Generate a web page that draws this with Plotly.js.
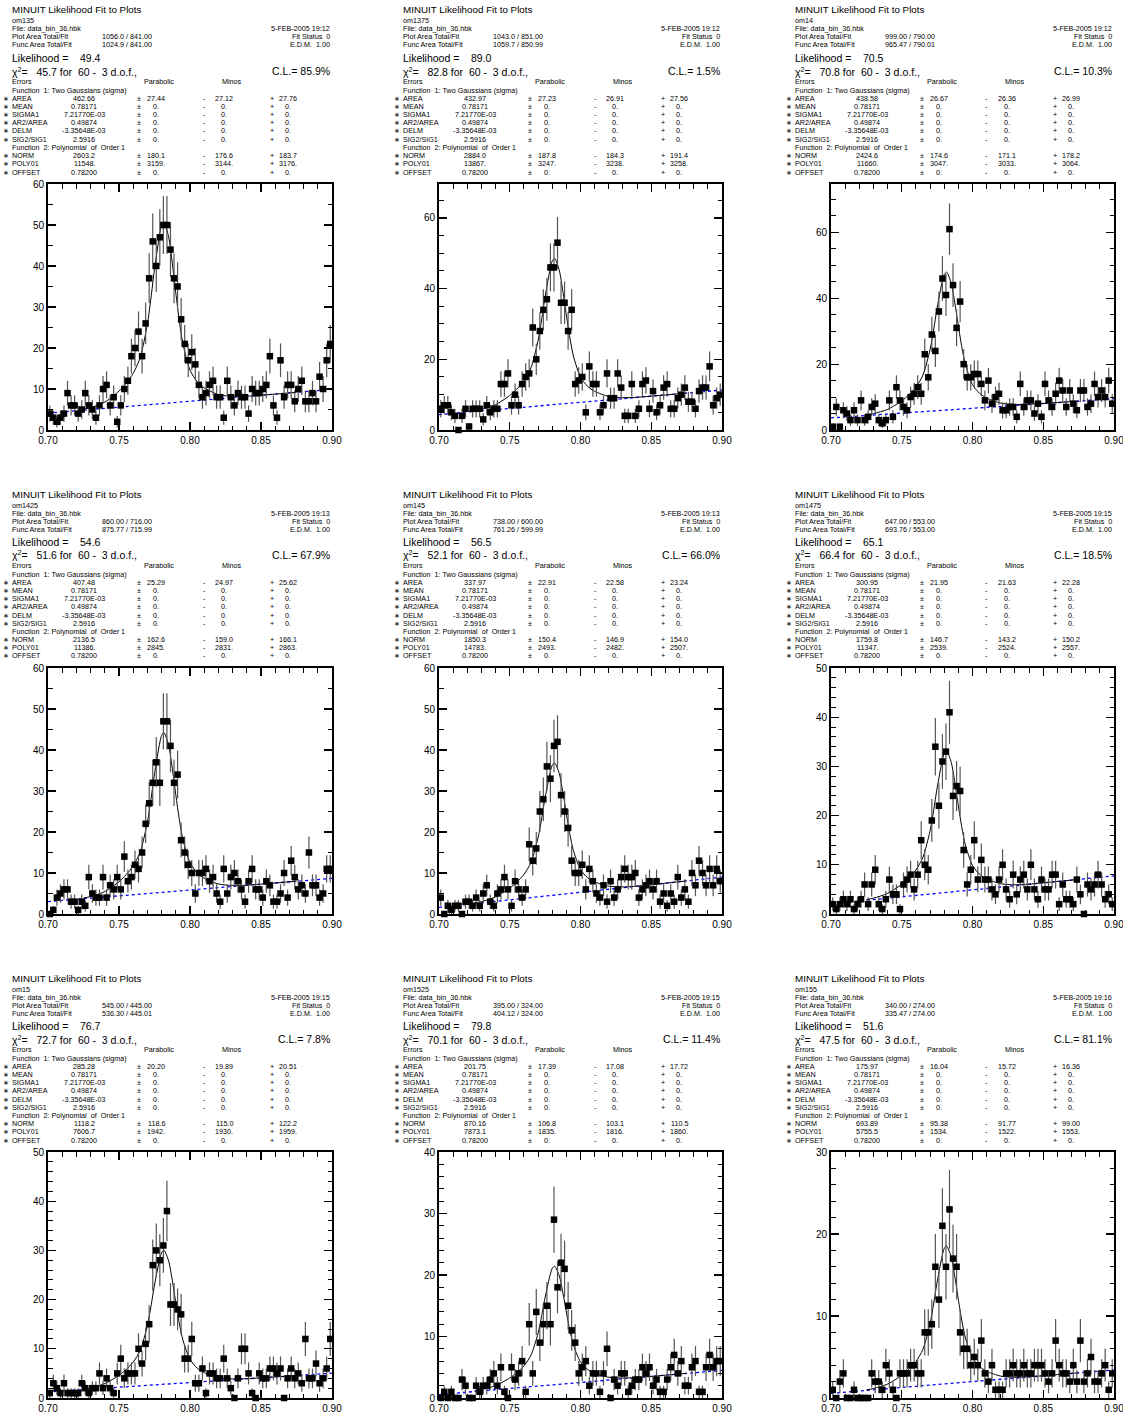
<!DOCTYPE html>
<html><head><meta charset="utf-8">
<script src="https://cdn.plot.ly/plotly-3.0.1.min.js"></script>
<style>html,body{margin:0;padding:0;background:#fff;}#chart{width:1123px;height:1418px;}</style>
</head><body><div id="chart"></div>
<script>
// ---------------- DATA ----------------
const histIds = ["om135","om1375","om14","om1425","om145","om1475","om15","om1525","om155"];
const plotArea = ["1056.0 / 841.00","1043.0 / 851.00","999.00 / 790.00","860.00 / 716.00","738.00 / 600.00","647.00 / 553.00","545.00 / 445.00","395.00 / 324.00","340.00 / 274.00"];
const funcArea = ["1024.9 / 841.00","1059.7 / 850.99","965.47 / 790.01","875.77 / 715.99","761.26 / 599.99","693.76 / 553.00","536.30 / 445.01","404.12 / 324.00","335.47 / 274.00"];
const fitDate = ["5-FEB-2005 19:12","5-FEB-2005 19:12","5-FEB-2005 19:12","5-FEB-2005 19:13","5-FEB-2005 19:13","5-FEB-2005 19:15","5-FEB-2005 19:15","5-FEB-2005 19:15","5-FEB-2005 19:16"];
const likelihood = ["49.4","89.0","70.5","54.6","56.5","65.1","76.7","79.8","51.6"];
const chi2 = ["45.7","82.8","70.8","51.6","52.1","66.4","72.7","70.1","47.5"];
const confLevel = ["85.9%","1.5%","10.3%","67.9%","66.0%","18.5%","7.8%","11.4%","81.1%"];
const areaFit = [["462.66","27.44","27.12","27.76"],["432.97","27.23","26.91","27.56"],["438.58","26.67","26.36","26.99"],["407.48","25.29","24.97","25.62"],["337.97","22.91","22.58","23.24"],["300.95","21.95","21.63","22.28"],["285.28","20.20","19.89","20.51"],["201.75","17.39","17.08","17.72"],["175.97","16.04","15.72","16.36"]];
const normFit = [["2603.2","180.1","176.6","183.7"],["2884.0","187.8","184.3","191.4"],["2424.6","174.6","171.1","178.2"],["2136.5","162.6","159.0","166.1"],["1850.3","150.4","146.9","154.0"],["1759.8","146.7","143.2","150.2"],["1118.2","118.6","115.0","122.2"],["870.16","106.8","103.1","110.5"],["693.89","95.38","91.77","99.00"]];
const poly01Fit = [["11548.","3159.","3144.","3176."],["13867.","3247.","3238.","3258."],["11660.","3047.","3033.","3064."],["11386.","2845.","2831.","2863."],["14783.","2493.","2482.","2507."],["11347.","2539.","2524.","2557."],["7606.7","1942.","1930.","1959."],["7873.1","1835.","1816.","1860."],["5755.5","1534.","1522.","1553."]];
const fixedNames = ["MEAN","SIGMA1","AR2/AREA","DELM","SIG2/SIG1"];
const fixedValues = ["0.78171","7.21770E-03","0.49874","-3.35648E-03","2.5916"];
const offsetValue = "0.78200";

// histogram: 80 bins of 0.0025 from 0.70
const binStart = 0.70125, binWidth = 0.0025;
const counts1 = [4,3,2,3,4,9,6,6,4,5, 9,6,5,3,6,10,11,6,8,2, 6,10,12,18,20,24,18,26,37,46, 40,47,50,50,44,37,35,27,21,17, 19,16,11,8,9,11,12,8,8,3, 12,8,6,9,8,8,4,10,9,9, 10,11,18,6,3,17,8,11,11,7, 10,12,7,7,9,7,13,10,17,21];
const counts2 = [6,7,7,5,4,0,4,6,1,6, 6,6,3,7,5,6,6,13,13,16, 7,10,7,13,15,16,29,20,28,34, 37,46,46,53,36,36,28,34,13,14, 15,5,18,13,13,5,7,16,9,9, 16,12,4,4,13,4,6,13,14,6, 11,5,7,12,13,6,6,9,10,12, 8,8,6,11,12,12,18,7,9,10];
const counts3 = [1,7,1,6,5,3,6,3,9,3, 4,7,8,3,2,3,9,4,13,9, 7,6,10,11,13,11,23,16,29,24, 36,46,41,61,44,31,39,20,16,16, 17,17,14,9,15,8,10,11,6,6, 7,7,4,14,7,9,9,5,8,4, 14,9,7,11,15,12,7,12,8,6, 12,12,7,8,14,10,12,10,15,8];
const counts4 = [0,1,4,5,6,6,3,3,1,3, 2,9,5,4,4,9,4,7,6,9, 6,14,8,9,12,11,15,22,27,32, 37,32,47,47,41,32,34,18,15,12, 10,5,10,10,11,8,9,5,3,11, 5,9,10,8,6,3,8,11,6,6, 4,8,7,3,3,5,10,4,13,9, 6,7,5,15,7,7,4,5,11,11];
const counts5 = [4,0,2,1,2,2,0,3,3,2, 4,2,5,7,3,2,5,6,9,6, 2,8,6,4,6,17,13,16,25,28, 36,33,41,42,29,25,21,13,10,10, 12,6,11,8,5,4,7,3,8,4, 6,9,11,9,9,10,4,6,7,8, 6,8,3,5,2,5,3,9,4,6, 3,10,7,13,10,7,11,7,11,8];
const counts6 = [2,1,2,3,2,3,1,2,3,6, 2,6,9,2,1,3,7,4,4,1, 6,7,8,5,8,15,10,9,19,34, 22,31,33,41,24,26,25,13,6,9, 15,7,11,7,7,5,4,7,10,5, 3,8,4,7,8,5,10,5,3,7, 5,5,8,8,2,6,3,3,2,7, 4,0,6,5,6,8,6,3,4,2];
const counts7 = [1,3,2,1,3,1,1,1,1,3, 2,1,2,2,5,2,4,2,1,5, 8,4,5,5,5,10,7,11,15,27, 30,28,31,38,19,19,18,17,8,8, 12,3,3,6,1,5,5,4,4,8, 4,2,0,4,10,10,5,1,0,5, 4,4,6,6,5,6,0,4,6,4, 5,3,12,4,4,7,3,4,6,12];
const counts8 = [0,1,0,1,0,0,3,2,0,0, 2,1,2,2,3,4,2,5,1,0, 5,3,4,6,1,12,4,14,9,12, 15,12,29,18,22,21,15,11,9,4, 5,6,2,4,4,1,4,8,0,3, 2,4,4,1,2,3,3,5,4,5, 2,3,1,1,3,5,7,4,6,2, 2,5,6,1,1,5,7,5,6,6];
const counts9 = [1,0,2,3,0,0,1,0,0,0, 0,3,2,2,1,4,3,1,0,3, 3,3,4,4,3,3,8,8,9,16, 12,21,16,23,17,16,8,6,6,4, 5,4,7,3,2,4,1,1,1,3, 3,4,3,3,4,3,3,4,4,4, 3,2,3,7,4,3,3,2,4,2, 7,2,3,5,2,2,3,4,1,3];

// fitted curve (two gaussians + linear background) over the fit range, read at these x
const fitX = [0.725,0.73,0.74,0.75,0.755,0.76,0.765,0.77,0.7725,0.775,0.78,0.7817,0.785,0.7875,0.79,0.7925,0.795,0.80,0.805,0.81,0.82,0.83,0.84,0.86,0.875];
const fit1 = [5.07,5.44,6.80,9.49,11.41,13.83,17.75,25.89,32.15,39.22,49.87,50.66,47.03,40.82,33.45,26.54,21.05,14.62,11.81,10.27,8.64,8.17,8.24,8.76,9.19];
const fit2 = [5.43,5.82,7.16,9.76,11.59,13.89,17.60,25.26,31.14,37.77,47.78,48.53,45.16,39.37,32.48,26.04,20.92,14.94,12.35,10.95,9.49,9.13,9.27,9.92,10.43];
const fit3 = [4.60,4.96,6.26,8.83,10.66,12.96,16.69,24.42,30.36,37.06,47.17,47.92,44.48,38.60,31.61,25.07,19.87,13.78,11.13,9.68,8.15,7.72,7.81,8.34,8.77];
const fit4 = [3.90,4.25,5.47,7.87,9.58,11.72,15.19,22.38,27.90,34.13,43.53,44.23,41.04,35.58,29.09,23.02,18.19,12.54,10.08,8.74,7.33,6.95,7.04,7.56,7.99];
const fit5 = [2.67,3.02,4.17,6.30,7.78,9.62,12.57,18.60,23.21,28.41,36.27,36.87,34.28,29.78,24.43,19.43,15.46,10.84,8.86,7.82,6.78,6.60,6.81,7.51,8.06];
const fit6 = [2.92,3.21,4.19,6.03,7.33,8.95,11.55,16.90,20.99,25.61,32.59,33.12,30.79,26.77,22.00,17.53,13.99,9.85,8.07,7.12,6.15,5.94,6.08,6.61,7.04];
const fit7 = [1.84,2.08,2.93,4.60,5.79,7.28,9.71,14.73,18.60,22.96,29.53,30.02,27.79,23.96,19.42,15.16,11.78,7.82,6.09,5.15,4.15,3.88,3.93,4.28,4.56];
const fit8 = [1.15,1.34,2.01,3.25,4.12,5.21,6.96,10.54,13.29,16.39,21.07,21.43,19.87,17.18,13.98,10.99,8.61,5.84,4.65,4.02,3.37,3.24,3.34,3.71,4.01];
const fit9 = [0.99,1.15,1.70,2.76,3.51,4.44,5.95,9.07,11.46,14.15,18.22,18.53,17.16,14.81,12.01,9.39,7.31,4.88,3.83,3.26,2.67,2.53,2.59,2.86,3.07];

// linear background component
const bgX = [0.70, 0.90];
const bg1 = [4.14, 9.92], bg2 = [4.37, 11.30], bg3 = [3.67, 9.50];
const bg4 = [3.01, 8.70], bg5 = [1.60, 8.99], bg6 = [2.07, 7.75];
const bg7 = [1.24, 5.04], bg8 = [0.56, 4.50], bg9 = [0.56, 3.43];

const xRange = [0.70, 0.90];
const yMax = [60, 69.6, 74.7, 60, 60, 50, 50, 40, 30];
const yTickStep = [10, 20, 20, 10, 10, 10, 10, 10, 10];
const yMinorStep = [5, 5, 5, 5, 5, 2, 2, 2, 2];

const allCounts = [counts1,counts2,counts3,counts4,counts5,counts6,counts7,counts8,counts9];
const allFits = [fit1,fit2,fit3,fit4,fit5,fit6,fit7,fit8,fit9];
const allBg = [bg1,bg2,bg3,bg4,bg5,bg6,bg7,bg8,bg9];

// ---------------- LAYOUT ----------------
const W = 1123, H = 1418;
const FONT = '"Liberation Sans", Arial, Helvetica, sans-serif';
const colLeft = [48, 439, 831], plotW = [284, 283, 283];
const rowTop = [184, 668, 1152], plotH = 246;

const traces = [];
const layout = {
  width: W, height: H, margin: {l:0, r:0, t:0, b:0},
  paper_bgcolor: '#fff', plot_bgcolor: '#fff', showlegend: false,
  font: {family: FONT, color: '#000'}, annotations: []
};

function ann(px, py, text, size, xanchor) {
  layout.annotations.push({
    xref: 'paper', yref: 'paper', x: px / W, y: 1 - py / H,
    text: text, showarrow: false, xanchor: xanchor || 'left', yanchor: 'middle',
    font: {family: FONT, size: size, color: '#000'}
  });
}
const sp = s => s.replace(/ /g, '\u00a0');

for (let p = 0; p < 9; p++) {
  const col = p % 3, row = Math.floor(p / 3), k = p + 1;
  const sx = k === 1 ? '' : String(k);
  const axisCommon = {
    showline: true, linewidth: 2, linecolor: '#000', mirror: 'allticks',
    ticks: 'inside', ticklen: 8, tickwidth: 1.2, tickcolor: '#000',
    showgrid: false, zeroline: false, fixedrange: true, ticklabeloverflow: 'allow',
    tickfont: {family: FONT, size: 10, color: '#000'}
  };
  layout['xaxis' + sx] = Object.assign({}, axisCommon, {
    domain: [colLeft[col] / W, (colLeft[col] + plotW[col]) / W],
    range: xRange, anchor: 'y' + sx, tick0: 0.70, dtick: 0.05, tickformat: '.2f',
    minor: {ticks: 'inside', ticklen: 4.5, tickwidth: 1, tickcolor: '#000', dtick: 0.01, showgrid: false}
  });
  layout['yaxis' + sx] = Object.assign({}, axisCommon, {
    domain: [1 - (rowTop[row] + plotH) / H, 1 - rowTop[row] / H],
    range: [0, yMax[p]], anchor: 'x' + sx, tick0: 0, dtick: yTickStep[p],
    minor: {ticks: 'inside', ticklen: 4.5, tickwidth: 1, tickcolor: '#000', dtick: yMinorStep[p], showgrid: false}
  });

  traces.push({x: bgX, y: allBg[p], xaxis: 'x' + sx, yaxis: 'y' + sx, mode: 'lines',
    line: {color: '#0000ff', width: 1.3, dash: 'dot'}, hoverinfo: 'skip'});
  traces.push({x: fitX, y: allFits[p], xaxis: 'x' + sx, yaxis: 'y' + sx, mode: 'lines',
    line: {color: '#000', width: 1, shape: 'spline', smoothing: 0.7}, hoverinfo: 'skip'});
  traces.push({x0: binStart, dx: binWidth, y: allCounts[p], xaxis: 'x' + sx, yaxis: 'y' + sx,
    type: 'scatter', mode: 'markers', cliponaxis: false,
    marker: {symbol: 'square', size: 6.5, color: '#000'},
    error_y: {type: 'sqrt', visible: true, color: '#555', thickness: 1.2, width: 0}});

  // text block
  const x0 = colLeft[col] - 48, yb = rowTop[row] - 184, R = colLeft[col] + plotW[col];
  const S = 7.2;
  ann(x0 + 10, yb + 10, 'MINUIT Likelihood Fit to Plots', 9.8);
  ann(x0 + 10, yb + 21, histIds[p], S);
  ann(x0 + 10, yb + 29, 'File: data_bin_36.hbk', S);
  ann(R, yb + 29, fitDate[p], S, 'right');
  ann(x0 + 10, yb + 37, 'Plot Area Total/Fit', S);
  ann(x0 + 100, yb + 37, plotArea[p], S);
  ann(R, yb + 37, sp('Fit Status  0'), S, 'right');
  ann(x0 + 10, yb + 45, 'Func Area Total/Fit', S);
  ann(x0 + 100, yb + 45, funcArea[p], S);
  ann(R, yb + 45, sp('E.D.M.  1.00'), S, 'right');
  ann(x0 + 10, yb + 58, sp('Likelihood =    ' + likelihood[p]), 10.5);
  ann(x0 + 10, yb + 71, 'χ<sup>2</sup>' + sp('=   ' + chi2[p] + ' for  60 -  3 d.o.f.,'), 10.5);
  ann(R, yb + 71, sp('C.L.= ' + confLevel[p]), 10.5, 'right');
  ann(x0 + 10, yb + 81.8, 'Errors', S);
  ann(x0 + 159, yb + 81.8, 'Parabolic', S, 'center');
  ann(x0 + 232, yb + 81.8, 'Minos', S, 'center');
  ann(x0 + 10, yb + 90, sp('Function  1: Two Gaussians (sigma)'), S);

  const rows = [['AREA'].concat(areaFit[p])];
  for (let i = 0; i < fixedNames.length; i++) rows.push([fixedNames[i], fixedValues[i], '0.', '0.', '0.']);
  const rows2 = [['NORM'].concat(normFit[p]), ['POLY01'].concat(poly01Fit[p]), ['OFFSET', offsetValue, '0.', '0.', '0.']];
  function paramRow(r, y) {
    ann(x0 + 5.5, y, '\u2217', S, 'center');
    ann(x0 + 10, y, r[0], S);
    ann(x0 + 84, y, r[1], S, 'center');
    ann(x0 + 139, y, '±', S, 'center');
    ann(x0 + 156, y, r[2], S, 'center');
    ann(x0 + 204, y, '-', S, 'center');
    ann(x0 + 224, y, r[3], S, 'center');
    ann(x0 + 272, y, '+', S, 'center');
    ann(x0 + 288, y, r[4], S, 'center');
  }
  rows.forEach((r, i) => paramRow(r, yb + 98.2 + i * 8.2));
  ann(x0 + 10, yb + 147.4, sp('Function  2: Polynomial  of  Order 1'), S);
  rows2.forEach((r, i) => paramRow(r, yb + 155.6 + i * 8.2));
}

Plotly.newPlot('chart', traces, layout, {staticPlot: true, displayModeBar: false});
</script></body></html>
